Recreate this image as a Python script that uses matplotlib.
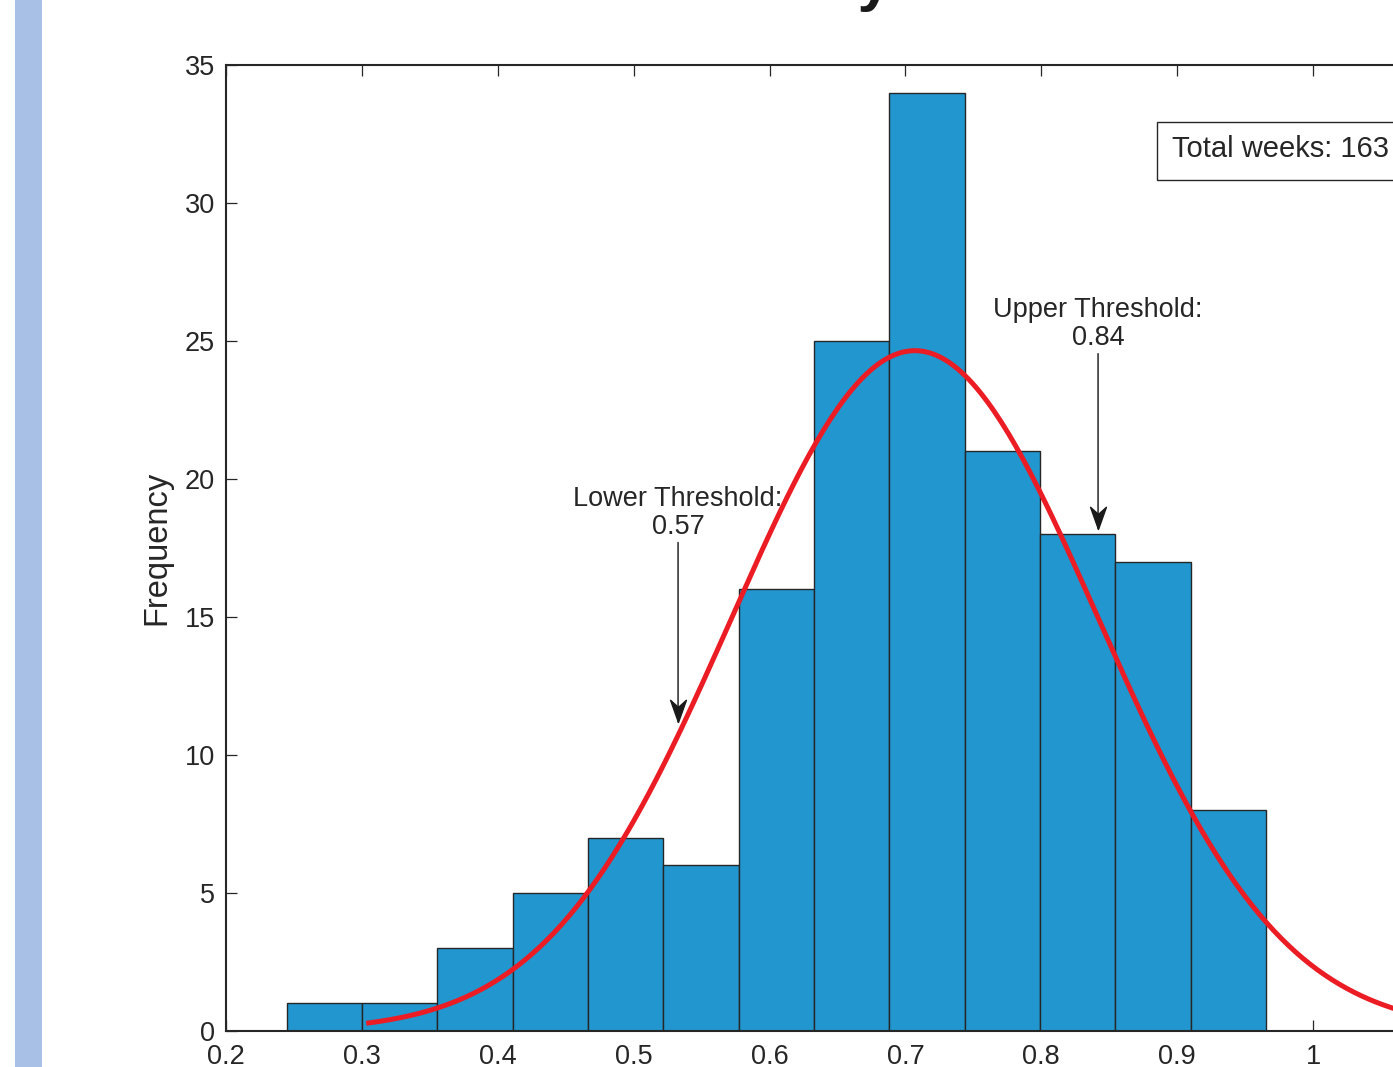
import matplotlib.pyplot as plt
import numpy as np
from matplotlib.patches import Rectangle
from matplotlib.path import Path

plt.rcParams['font.family'] = ['Liberation Sans', 'DejaVu Sans']

# histogram
bin_edges = [0.2449, 0.3001, 0.3553, 0.4112, 0.4664, 0.5216, 0.5776,
             0.6327, 0.6880, 0.7439, 0.7991, 0.8543, 0.9102, 0.9654]
counts = [1, 1, 3, 5, 7, 6, 16, 25, 34, 21, 18, 17, 8]
total_weeks = 163

# fitted normal curve
fit_mu = 0.707
fit_sigma = 0.135
fit_peak = 24.65
fit_range = [0.305, 1.105]

# threshold annotations: label, arrow x, arrow tip y, text bottom y
thr_labels = ["Lower Threshold:\n0.57", "Upper Threshold:\n0.84"]
thr_x = [0.5327, 0.8418]
thr_tip = [11.2, 18.2]
thr_text_y = [17.8, 24.64]

x_ticks = [0.2, 0.3, 0.4, 0.5, 0.6, 0.7, 0.8, 0.9, 1.0]
y_ticks = [0, 5, 10, 15, 20, 25, 30, 35]

W, H = 1393, 1067
fig = plt.figure(figsize=(W / 100, H / 100), dpi=100)
dark = '#262626'

# side strip
fig.patches.append(Rectangle((15 / W, 0), 27 / W, 1, transform=fig.transFigure,
                             facecolor='#a9c0e6', edgecolor='none'))

ax = fig.add_axes([226 / W, 1 - 1031 / H, 1222.9 / W, 966 / H])

edges = np.array(bin_edges)
ax.bar(edges[:-1], counts, width=np.diff(edges), align='edge',
       color='#2196cf', edgecolor=dark, linewidth=1.0, zorder=2)

xs = np.linspace(fit_range[0], fit_range[1], 300)
ys = fit_peak * np.exp(-0.5 * ((xs - fit_mu) / fit_sigma) ** 2)
ax.plot(xs, ys, color='#ec1c24', linewidth=3.6, zorder=3, clip_on=False)

head = Path([(0, 0), (-0.5, 1.4), (0, 0.95), (0.5, 1.4), (0, 0)],
            [Path.MOVETO, Path.LINETO, Path.LINETO, Path.LINETO, Path.CLOSEPOLY])
for lab, x, tip, ty in zip(thr_labels, thr_x, thr_tip, thr_text_y):
    ax.annotate(lab, xy=(x, tip), xytext=(x, ty), ha='center', va='bottom',
                fontsize=19.5, color=dark, linespacing=1.1, zorder=4,
                arrowprops=dict(arrowstyle='-', color=dark, lw=1.1,
                                shrinkA=0, shrinkB=0))
    ax.plot([x], [tip], marker=head, markersize=32, color='#1a1a1a',
            linestyle='none', zorder=4)

ax.set_xlim(0.2, 1.1)
ax.set_ylim(0, 35)
ax.set_xticks(x_ticks)
ax.set_xticklabels(['%g' % t for t in x_ticks])
ax.set_yticks(y_ticks)
ax.tick_params(direction='in', top=True, right=True, length=8, width=0.9,
               labelsize=19.5, pad=8, colors=dark)
ax.tick_params(axis='x', pad=9)
for s in ax.spines.values():
    s.set_linewidth(1.5)
    s.set_color(dark)
ax.set_ylabel('Frequency', fontsize=23.5, color=dark)
ax.yaxis.set_label_coords(-0.0442, 0.5)

# textbox with total
fig.patches.append(Rectangle((1157 / W, 1 - 180 / H), 300 / W, 58 / H,
                             transform=fig.transFigure, facecolor='white',
                             edgecolor=dark, linewidth=1.0))
fig.text(1172 / W, 1 - 157 / H, 'Total weeks: %d' % total_weeks, fontsize=21,
         color=dark, va='baseline', ha='left')

# title, only the descender of its last letter falls inside the picture
fig.text(893 / W, 1 - 12 / H, 'Efficiency', fontsize=44, fontweight='bold',
         color='#1a1a1a', ha='right', va='bottom')

fig.savefig('out.png', dpi=100)
